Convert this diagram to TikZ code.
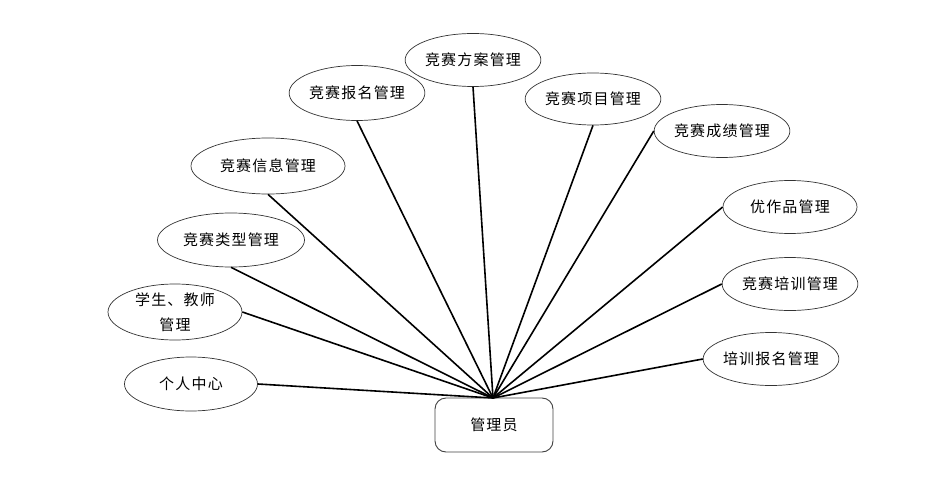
\documentclass[tikz,border=0pt]{standalone}
\usepackage{fontspec}
\setmainfont{Liberation Serif}
\newfontfamily\cjk[LetterSpace=8]{Noto Sans CJK SC}
\usetikzlibrary{shapes.geometric}
\begin{document}
\begin{tikzpicture}[x=1pt,y=-1pt,
  ell/.style={ellipse,draw=black!80,line width=0.7pt,minimum width=#1,minimum height=54pt,inner sep=0pt,font=\cjk\fontsize{15}{25}\selectfont,align=center},
  ell/.default=133pt,
  conn/.style={line width=1.6pt,black},
  hub/.style={draw=black!75,line width=0.9pt,rounded corners=11pt,minimum width=118pt,minimum height=54pt,inner sep=0pt,font=\cjk\fontsize{15}{18}\selectfont}]
\useasboundingbox (0,0) rectangle (950,484);
\node[hub] (admin) at (494,425) {管理员};
\coordinate (hubtop) at (493,398);
\node[ell] (e1) at (191,384) {个人中心};
\node[ell=134pt,minimum height=56pt] (e2) at (175,312) {学生、教师\\管理};
\node[ell=147pt] (e3) at (231,240) {竞赛类型管理};
\node[ell=154pt,minimum height=56pt] (e4) at (268,166) {竞赛信息管理};
\node[ell=132pt,minimum height=55pt] (e5) at (357,93) {竞赛报名管理};
\node[ell=132pt,minimum height=53pt] (e6) at (473,60) {竞赛方案管理};
\node[ell,minimum height=52pt] (e7) at (593,99) {竞赛项目管理};
\node[ell=132pt,minimum height=53pt] (e8) at (722,131) {竞赛成绩管理};
\node[ell=134pt,minimum height=53pt] (e9) at (790,207) {优作品管理};
\node[ell=134pt,minimum height=53pt] (e10) at (790,284) {竞赛培训管理};
\node[ell,minimum height=53pt] (e11) at (771,359) {培训报名管理};
\draw[conn] (hubtop) -- (e1.east);
\draw[conn] (hubtop) -- (e2.east);
\draw[conn] (hubtop) -- (e3.south);
\draw[conn] (hubtop) -- (e4.south);
\draw[conn] (hubtop) -- (e5.south);
\draw[conn] (hubtop) -- (e6.south);
\draw[conn] (hubtop) -- (e7.south);
\draw[conn] (hubtop) -- (e8.west);
\draw[conn] (hubtop) -- (e9.west);
\draw[conn] (hubtop) -- (e10.west);
\draw[conn] (hubtop) -- (e11.west);
\end{tikzpicture}
\end{document}
